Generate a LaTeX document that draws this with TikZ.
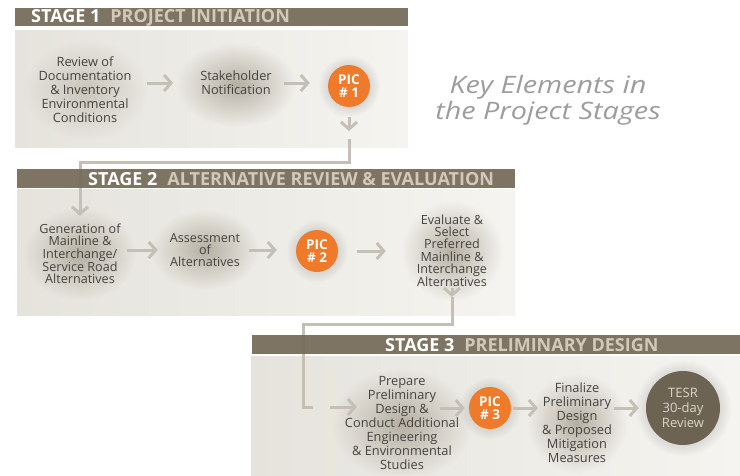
\documentclass[tikz,border=0pt]{standalone}
\usepackage{fontspec}
\setmainfont{Open Sans}
\usetikzlibrary{arrows.meta,fadings}

\definecolor{barbrown}{HTML}{746A58}
\definecolor{barlight}{HTML}{D2C9B6}
\definecolor{panelleft}{HTML}{E5E3DC}
\definecolor{panelright}{HTML}{F5F4F0}
\definecolor{flowgray}{HTML}{C4C0B6}
\definecolor{textgray}{HTML}{44433F}
\definecolor{glowgray}{HTML}{B6B0A3}
\definecolor{picorange}{HTML}{EF7A2A}
\definecolor{tesrbrown}{HTML}{6D6352}
\definecolor{tesrtext}{HTML}{D9D5CC}
\definecolor{titlegray}{HTML}{9D9D9D}

\tikzfading[name=glow, inner color=transparent!0, outer color=transparent!100]

\begin{document}
\begin{tikzpicture}[x=1pt,y=-1pt,
    panel/.style={left color=panelleft,right color=panelright,draw=none},
    bar/.style={fill=barbrown,fill opacity=0.93,draw=none},
    bartext/.style={anchor=west,inner sep=0pt,text=white,font=\fontsize{18}{20}\bfseries\selectfont},
    stagetxt/.style={align=center,inner sep=0pt,text=textgray,font=\fontsize{12.8}{14}\selectfont},
    tighttxt/.style={stagetxt,font=\fontsize{12.6}{12.2}\selectfont},
    pic/.style={circle,fill=picorange,minimum size=42pt,inner sep=0pt,align=center,text=white,
        font=\fontsize{13.5}{13.5}\bfseries\selectfont},
    flow/.style={draw=flowgray,line width=3pt,-{Straight Barb[length=7pt,width=16pt]}},
    link/.style={draw=flowgray,line width=3pt},
    halo/.style={fill=glowgray,path fading=glow}]

    \fill[white] (0,0) rectangle (740,475);
    \useasboundingbox (0,0) rectangle (740,475);

    % stage panels
    \shade[panel] (15,30) rectangle (408,147);
    \shade[panel] (17,189) rectangle (515,315);
    \shade[panel] (251,356) rectangle (740,475);

    % soft halos behind the boxes, kept inside the panels
    \begin{scope}
        \clip (15,30) rectangle (408,147) (17,189) rectangle (515,315) (251,356) rectangle (740,475);
        \fill[halo,opacity=0.6] (86,90) ellipse [x radius=62, y radius=50];
        \fill[halo] (236,85) ellipse [x radius=60, y radius=42];
        \fill[halo,fill=black!35] (349,86) ellipse [x radius=31, y radius=31];
        \fill[halo] (80,254) ellipse [x radius=56, y radius=46];
        \fill[halo] (205,250) ellipse [x radius=54, y radius=40];
        \fill[halo,fill=black!35] (317,251) ellipse [x radius=31, y radius=31];
        \fill[halo] (452,251) ellipse [x radius=50, y radius=50];
        \fill[halo] (402,424) ellipse [x radius=70, y radius=56];
        \fill[halo,fill=black!35] (490,408) ellipse [x radius=31, y radius=31];
        \fill[halo] (577,423) ellipse [x radius=50, y radius=50];
        \fill[halo,fill=black!45] (683,408) ellipse [x radius=48, y radius=48];
    \end{scope}

    % bends of the links between the stages
    \coordinate (drop1) at (349,131);
    \coordinate (hook1) at (349,139);
    \coordinate (bend1) at (349,162);
    \coordinate (drop2) at (452,297);
    \coordinate (bend2) at (452,324);
    \coordinate (hook3) at (303,407);
    \coordinate (tail3) at (313,407);

    % stage 1
    \node[stagetxt] (rev) at (85,90) {Review of\\Documentation\\\& Inventory\\Environmental\\Conditions};
    \node[stagetxt] (stake) at (236,83) {Stakeholder\\Notification};
    \node[pic] (pic1) at (349,86) {PIC\\\# 1};

    % stage 2
    \node[tighttxt] (gen) at (80,254) {Generation of\\Mainline \&\\Interchange/\\Service Road\\Alternatives};
    \node[tighttxt] (assess) at (205,250) {Assessment\\of\\Alternatives};
    \node[pic] (pic2) at (317,251) {PIC\\\# 2};
    \node[tighttxt] (eval) at (452,251) {Evaluate \&\\Select\\Preferred\\Mainline \&\\Interchange\\Alternatives};

    % stage 3
    \node[stagetxt] (prep) at (402,423) {Prepare\\Preliminary\\Design \&\\Conduct Additional\\Engineering\\\& Environmental\\Studies};
    \node[pic] (pic3) at (490,408) {PIC\\\# 3};
    \node[stagetxt] (fin) at (577,423) {Finalize\\Preliminary\\Design\\\& Proposed\\Mitigation\\Measures};
    \node[circle,fill=tesrbrown,minimum size=74pt,inner sep=0pt,align=center,text=tesrtext,
        font=\fontsize{13}{15}\selectfont] (tesr) at (683,408) {TESR\\30-day\\Review};

    % arrows inside the stages
    \draw[flow,shorten <=15pt,shorten >=27pt] (rev.east |- stake) -- (stake.west);
    \draw[flow,shorten <=12pt,shorten >=18pt] (stake.east) -- (pic1.west |- stake);
    \draw[flow,shorten <=10pt] (pic1.south) -- (drop1);
    \draw[flow,shorten <=6pt,shorten >=12pt] (gen.east |- assess) -- (assess.west);
    \draw[flow,shorten <=9pt,shorten >=19pt] (assess.east) -- (pic2.west |- assess);
    \draw[flow,shorten <=19pt,shorten >=31pt] (pic2.east) -- (eval.west |- pic2);
    \draw[flow,shorten <=1pt] (eval.south) -- (drop2);
    \draw[flow,shorten <=17pt,shorten >=45pt] (tail3) -- (prep.center |- tail3);
    \draw[flow,shorten <=38pt,shorten >=4pt] (prep.center |- pic3) -- (pic3.west);
    \draw[flow,shorten <=2pt,shorten >=4pt] (pic3.east) -- (fin.west |- pic3);
    \draw[flow,shorten <=2pt,shorten >=7pt] (fin.east |- tesr) -- (tesr.west);

    % links between the stages
    \draw[link] (hook1) -- (bend1) -| (gen.north) [flow,shorten >=8pt];
    \draw[link] (drop2) -- (bend2) -| (hook3) -- (tail3);

    % stage headers
    \fill[bar] (15,8) rectangle (408,26);
    \fill[bar] (17,169) rectangle (515,188);
    \fill[bar] (252,335) rectangle (740,354);
    \node[bartext] (head1) at (31,17.5) {STAGE 1\hspace{10pt}\textcolor{barlight}{PROJECT INITIATION}};
    \node[bartext] (head2) at (88,179) {STAGE 2\hspace{10pt}\textcolor{barlight}{ALTERNATIVE REVIEW \& EVALUATION}};
    \node[bartext] (head3) at (385,345) {STAGE 3\hspace{10pt}\textcolor{barlight}{PRELIMINARY DESIGN}};

    % caption
    \node[align=center,inner sep=0pt,text=titlegray,xscale=1.2,transform shape,
        font=\fontsize{24}{26}\itshape\selectfont] (caption) at (548,100)
        {Key Elements in\\the Project Stages};
\end{tikzpicture}
\end{document}
